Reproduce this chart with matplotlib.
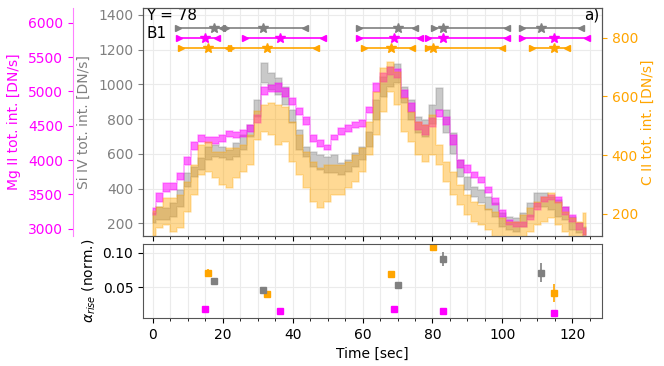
import numpy as np
import matplotlib.pyplot as plt
from matplotlib.colors import to_rgba
from matplotlib.ticker import MultipleLocator, FormatStrFormatter

# --- полосы интенсивности (нижняя/верхняя граница), шаг 2 с ---
time = [0, 2, 4, 6, 8, 10, 12, 14, 16, 18, 20, 22, 24, 26, 28, 30, 32, 34, 36, 38,
        40, 42, 44, 46, 48, 50, 52, 54, 56, 58, 60, 62, 64, 66, 68, 70, 72, 74, 76, 78,
        80, 82, 84, 86, 88, 90, 92, 94, 96, 98, 100, 102, 104, 106, 108, 110, 112, 114,
        116, 118, 120, 122, 124]

mg_lo = [3200, 3390, 3540, 3565, 3710, 3930, 4145, 4265, 4245, 4235, 4265, 4330, 4315,
         4340, 4415, 4535, 4945, 4995, 4995, 4920, 4800, 4655, 4510, 4265, 4195, 4145,
         4290, 4365, 4415, 4460, 4485, 4680, 4995, 5140, 5240, 5200, 4900, 4705, 4435,
         4365, 4485, 4630, 4510, 4220, 3880, 3805, 3735, 3660, 3515, 3345, 3175, 3055,
         3030, 3030, 3125, 3270, 3395, 3420, 3370, 3200, 3100, 2980, 2910]
mg_hi = [3300, 3515, 3660, 3660, 3805, 4050, 4265, 4365, 4340, 4330, 4365, 4430, 4415,
         4435, 4510, 4655, 5070, 5095, 5115, 5045, 4900, 4755, 4630, 4365, 4290, 4220,
         4365, 4460, 4510, 4560, 4585, 4775, 5115, 5265, 5360, 5330, 5020, 4825, 4560,
         4510, 4610, 4730, 4630, 4365, 4000, 3930, 3830, 3755, 3610, 3445, 3270, 3125,
         3100, 3100, 3200, 3370, 3465, 3490, 3465, 3320, 3200, 3080, 3005]

si_lo = [200, 220, 220, 238, 296, 411, 468, 507, 565, 584, 574, 565, 584, 622, 699, 814,
         1006, 968, 939, 881, 776, 622, 584, 526, 507, 488, 488, 478, 497, 526, 565, 641,
         795, 929, 987, 1006, 891, 795, 718, 699, 770, 850, 720, 600, 468, 392, 353, 315,
         277, 238, 180, 162, 152, 180, 238, 296, 296, 277, 238, 219, 162, 142, 123]
si_hi = [258, 296, 286, 315, 392, 488, 526, 574, 641, 651, 641, 622, 661, 709, 766, 910,
         1122, 1064, 1035, 987, 853, 737, 641, 612, 593, 584, 593, 546, 565, 603, 641, 728,
         910, 1044, 1102, 1115, 987, 910, 814, 795, 880, 980, 850, 720, 565, 468, 411, 392,
         353, 315, 258, 238, 229, 258, 315, 373, 373, 353, 334, 296, 238, 200, 180]

c_lo = [125, 150, 161, 139, 150, 207, 264, 332, 343, 321, 298, 287, 321, 343, 366, 450,
        480, 468, 434, 445, 377, 332, 287, 241, 218, 241, 264, 264, 287, 309, 343, 400,
        468, 548, 616, 571, 480, 445, 400, 377, 400, 366, 309, 264, 230, 196, 173, 161,
        145, 122, 116, 110, 122, 122, 139, 161, 173, 184, 161, 139, 122, 122, 127]
c_hi = [210, 224, 252, 252, 264, 309, 366, 434, 445, 411, 411, 423, 423, 434, 468, 550,
        571, 576, 571, 565, 514, 468, 411, 377, 355, 366, 366, 366, 377, 400, 423, 514,
        616, 696, 718, 684, 593, 548, 514, 502, 536, 434, 377, 343, 298, 264, 241, 230,
        215, 207, 184, 173, 173, 196, 218, 241, 258, 270, 241, 207, 184, 173, 201]

# --- alpha_rise ---
c_t = [15.7, 32.7, 68.1, 80.2, 114.7]
c_alpha = [0.0711, 0.0403, 0.0692, 0.1087, 0.0413]
c_err = [0.005, 0.002, 0.004, 0.003, 0.013]
si_t = [17.6, 31.5, 70.0, 83.0, 111.1]
si_alpha = [0.0591, 0.0457, 0.0538, 0.0909, 0.0711]
si_err = [0.005, 0.002, 0.002, 0.0096, 0.0137]
mg_t = [14.9, 36.4, 68.9, 83.0, 114.7]
mg_alpha = [0.0191, 0.0158, 0.0182, 0.0153, 0.0124]
mg_err = [0.001, 0.001, 0.001, 0.001, 0.001]

# --- интервалы нарастания (начало, конец) ---
si_start = [7.3, 21.0, 59.0, 80.5, 105.7]
si_end = [19.7, 43.5, 75.1, 101.4, 122.4]
mg_start = [7.6, 26.5, 59.0, 78.6, 105.7]
mg_end = [18.5, 48.6, 76.4, 101.4, 124.2]
c_start = [8.0, 22.3, 60.4, 78.6, 108.6]
c_end = [21.6, 46.7, 74.0, 99.9, 118.6]

SI_COL = 'gray'
MG_COL = 'magenta'
C_COL = 'orange'
FRAME = '#555555'


def band(a, x, lo, hi, col, fa, ea):
    # ступенчатая полоса; тонкая полупрозрачная кромка склеивает ступени
    a.fill_between(x, lo, hi, step='mid', facecolor=to_rgba(col, fa),
                   edgecolor=to_rgba(col, ea), lw=1.2)


fig = plt.figure(figsize=(6.64, 3.66), dpi=100)
ax = fig.add_axes([0.2154, 0.3552, 0.6913, 0.623])
ax2 = fig.add_axes([0.2154, 0.1311, 0.6913, 0.2022], sharex=ax)
ax_mg = ax.twinx()
ax_c = ax.twinx()

band(ax, time, si_lo, si_hi, SI_COL, 0.42, 0.25)
band(ax_mg, time, mg_lo, mg_hi, MG_COL, 0.55, 0.3)
band(ax_c, time, c_lo, c_hi, C_COL, 0.42, 0.25)

# горизонтальные отрезки со звёздами
rows = [(si_start, si_end, si_t, SI_COL, 0.914),
        (mg_start, mg_end, mg_t, MG_COL, 0.870),
        (c_start, c_end, c_t, C_COL, 0.823)]
tr = ax_c.get_xaxis_transform()
for st, en, pk, col, yy in rows:
    for s, e, p in zip(st, en, pk):
        ax_c.plot([s, e], [yy, yy], color=col, lw=1.2, transform=tr)
        ax_c.plot([s], [yy], marker='>', color=col, ms=4.5, transform=tr)
        ax_c.plot([e], [yy], marker='<', color=col, ms=4.5, transform=tr)
        ax_c.plot([p], [yy], marker='*', color=col, ms=7.5, transform=tr)

ax.set_xlim(-2.8, 128.5)
ax.set_ylim(127, 1440)
ax_mg.set_ylim(2894, 6214)
ax_c.set_ylim(124, 901)

ax.xaxis.set_major_locator(MultipleLocator(20))
ax.xaxis.set_minor_locator(MultipleLocator(5))
ax.yaxis.set_major_locator(MultipleLocator(200))
ax_mg.yaxis.set_major_locator(MultipleLocator(500))
ax_c.yaxis.set_major_locator(MultipleLocator(200))

ax.grid(True, which='both', axis='x', color='#ebebeb', lw=0.8)
ax.grid(True, which='major', axis='y', color='#ebebeb', lw=0.8)
ax.set_axisbelow(True)

ax.tick_params(axis='x', labelbottom=False)
ax.tick_params(axis='y', colors=SI_COL, labelsize=10)
ax.set_ylabel('Si IV tot. int. [DN/s]', color=SI_COL, fontsize=10)
ax.yaxis.set_label_coords(-0.113, 0.5)

ax_mg.yaxis.set_ticks_position('left')
ax_mg.yaxis.set_label_position('left')
ax_mg.spines['left'].set_position(('outward', 50.4))
ax_mg.spines['left'].set_visible(True)
ax_mg.spines['left'].set_color('#ff80ff')
ax_mg.spines['right'].set_visible(False)
ax_mg.spines['top'].set_visible(False)
ax_mg.spines['bottom'].set_visible(False)
ax_mg.tick_params(axis='y', colors=MG_COL, labelsize=10)
ax_mg.set_ylabel('Mg II tot. int. [DN/s]', color=MG_COL, fontsize=10)
ax_mg.yaxis.set_label_coords(-0.266, 0.5)

ax_c.tick_params(axis='y', colors=C_COL, labelsize=10)
ax_c.set_ylabel('C II tot. int. [DN/s]', color=C_COL, fontsize=10)
ax_c.yaxis.set_label_coords(1.085, 0.5)

for a in (ax, ax_c):
    for sp in ('top', 'bottom', 'right', 'left'):
        a.spines[sp].set_color(FRAME)

ax.text(0.007, 0.969, 'Y = 78', transform=ax.transAxes, va='center', fontsize=11)
ax.text(0.007, 0.89, 'B1', transform=ax.transAxes, va='center', fontsize=11)
ax.text(0.995, 0.969, 'a)', transform=ax.transAxes, va='center', ha='right', fontsize=11)

# нижняя панель
ax2.errorbar(c_t, c_alpha, yerr=c_err, fmt='s', color=C_COL, ms=4, elinewidth=1.2)
ax2.errorbar(si_t, si_alpha, yerr=si_err, fmt='s', color=SI_COL, ms=4, elinewidth=1.2)
ax2.errorbar(mg_t, mg_alpha, yerr=mg_err, fmt='s', color=MG_COL, ms=4, elinewidth=1.2)
ax2.set_ylim(0.0056, 0.1126)
ax2.set_yticks([0.05, 0.10])
ax2.yaxis.set_major_formatter(FormatStrFormatter('%.2f'))
ax2.grid(True, which='both', axis='x', color='#ebebeb', lw=0.8)
ax2.grid(True, which='major', axis='y', color='#ebebeb', lw=0.8)
ax2.set_axisbelow(True)
ax2.tick_params(labelsize=10)
ax2.set_ylabel(r'$\alpha_{rise}$ (norm.)', fontsize=10)
ax2.yaxis.set_label_coords(-0.098, 0.5)
ax2.set_xlabel('Time [sec]', fontsize=10)
for sp in ax2.spines.values():
    sp.set_color(FRAME)

fig.savefig('out.png', dpi=100)
